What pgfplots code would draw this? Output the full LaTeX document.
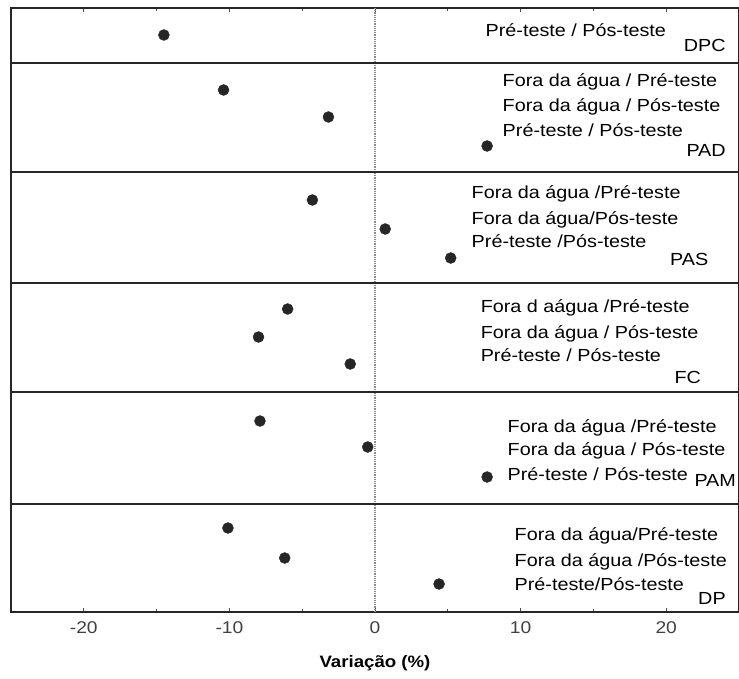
\documentclass[border=0pt]{standalone}
\usepackage{pgfplots}
\pgfplotsset{compat=1.18}
\usepackage{pgfplotstable}
\usepackage{fontspec}
\setmainfont{Liberation Sans}[FakeStretch=1.13]
\pgfplotstableread{
x y
-14.5 35
-10.4 90
-3.2 117
7.7 146
-4.3 200
0.7 229
5.2 258
-6.0 309
-8.0 337
-1.7 364
-7.9 421
-0.5 447
7.7 477
-10.1 528
-6.2 558
4.4 584
}\datatable
\newcommand{\lf}{\fontsize{17.5}{17.5}\selectfont}
\begin{document}
\begin{tikzpicture}
\begin{axis}[
  at={(0,0)}, anchor=south west,
  scale only axis, width=728pt, height=604pt,
  xmin=-25, xmax=25, ymin=8, ymax=612, y dir=reverse,
  ytick=\empty,
  xtick={-20,-10,0,10,20}, minor xtick={-15,-5,5,15},
  tick align=inside, xtick pos=both,
  major tick length=4pt, minor tick length=3pt,
  axis line style={line width=1.4pt, black!85},
  every tick/.style={black!70, line width=0.8pt},
  /pgf/number format/assume math mode=true,
  x tick label style={font=\fontsize{17}{17}\selectfont, text=black!75, yshift=-6pt},
  xlabel={\textbf{Variação (\%)}},
  xlabel style={font=\fontsize{16.5}{16.5}\selectfont, at={(axis description cs:0.5,0)}, anchor=center, yshift=-51pt},
  clip=false,
]
\draw[black!45, densely dotted, line width=1.2pt] (axis cs:0,8) -- (axis cs:0,612);
\pgfplotsinvokeforeach{63,172,283,392,504}{
  \draw[black!85, line width=1.4pt] (axis cs:-25,#1) -- (axis cs:25,#1);
}
\addplot[only marks, mark=*, mark size=5.5pt, black!85, mark options={fill=black!85}] table[x=x,y=y] {\datatable};
% DPC
\node[anchor=base west, inner sep=0pt, font=\lf] at (axis cs:7.59,37) {Pré-teste / Pós-teste};
\node[anchor=base east, inner sep=0pt, font=\lf] at (axis cs:24.1,52) {DPC};
% PAD
\node[anchor=base west, inner sep=0pt, font=\lf] at (axis cs:8.76,87) {Fora da água / Pré-teste};
\node[anchor=base west, inner sep=0pt, font=\lf] at (axis cs:8.76,112) {Fora da água / Pós-teste};
\node[anchor=base west, inner sep=0pt, font=\lf] at (axis cs:8.76,137) {Pré-teste / Pós-teste};
\node[anchor=base east, inner sep=0pt, font=\lf] at (axis cs:24.1,157) {PAD};
% PAS
\node[anchor=base west, inner sep=0pt, font=\lf] at (axis cs:6.63,198) {Fora da água /Pré-teste};
\node[anchor=base west, inner sep=0pt, font=\lf] at (axis cs:6.63,224) {Fora da água/Pós-teste};
\node[anchor=base west, inner sep=0pt, font=\lf] at (axis cs:6.63,247) {Pré-teste /Pós-teste};
\node[anchor=base east, inner sep=0pt, font=\lf] at (axis cs:22.9,265) {PAS};
% FC
\node[anchor=base west, inner sep=0pt, font=\lf] at (axis cs:7.25,312) {Fora d aágua /Pré-teste};
\node[anchor=base west, inner sep=0pt, font=\lf] at (axis cs:7.25,338) {Fora da água / Pós-teste};
\node[anchor=base west, inner sep=0pt, font=\lf] at (axis cs:7.25,361) {Pré-teste / Pós-teste};
\node[anchor=base east, inner sep=0pt, font=\lf] at (axis cs:22.4,383) {FC};
% PAM
\node[anchor=base west, inner sep=0pt, font=\lf] at (axis cs:9.1,432) {Fora da água /Pré-teste};
\node[anchor=base west, inner sep=0pt, font=\lf] at (axis cs:9.1,455) {Fora da água / Pós-teste};
\node[anchor=base west, inner sep=0pt, font=\lf] at (axis cs:9.1,480) {Pré-teste / Pós-teste};
\node[anchor=base east, inner sep=0pt, font=\lf] at (axis cs:24.8,486) {PAM};
% DP
\node[anchor=base west, inner sep=0pt, font=\lf] at (axis cs:9.58,540) {Fora da água/Pré-teste};
\node[anchor=base west, inner sep=0pt, font=\lf] at (axis cs:9.58,566) {Fora da água /Pós-teste};
\node[anchor=base west, inner sep=0pt, font=\lf] at (axis cs:9.58,590) {Pré-teste/Pós-teste};
\node[anchor=base east, inner sep=0pt, font=\lf] at (axis cs:24.1,604) {DP};
\end{axis}
\pgfresetboundingbox
\path (-11pt,-67pt) rectangle (728pt,612pt);
\end{tikzpicture}
\end{document}
